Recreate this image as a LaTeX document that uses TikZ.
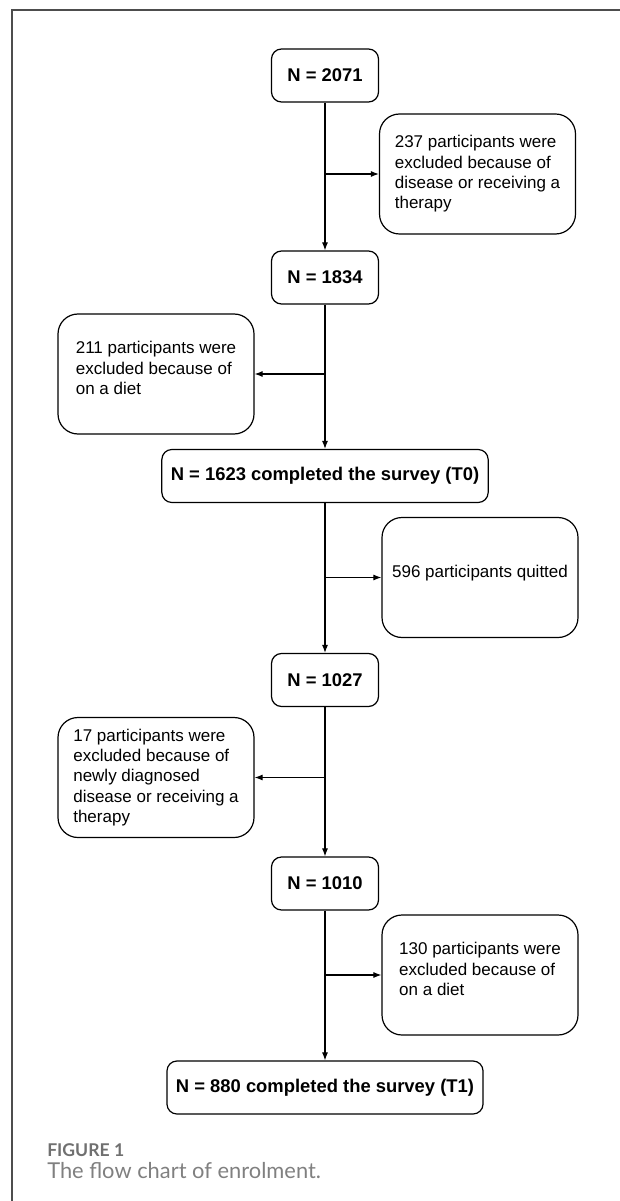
\documentclass[tikz,border=0pt]{standalone}
\usepackage{fontspec}
\setmainfont{Liberation Sans}
\newfontfamily\figfont{Lato}
\usetikzlibrary{arrows.meta}
\definecolor{framegrey}{HTML}{4D4D4D}
\definecolor{figgrey}{HTML}{707070}
\definecolor{capgrey}{HTML}{808080}
\newcommand{\padbelow}{\rule[-9pt]{0pt}{0pt}}

\begin{document}
\begin{tikzpicture}[x=0.75pt, y=-0.75pt]

      \tikzset{mainbox/.style={draw, rounded corners=7.5pt, line width=0.9pt, minimum width=80.25pt, minimum height=39.75pt, inner xsep=6.75pt, font=\fontsize{13.8pt}{16pt}\selectfont\bfseries},
               sidebox/.style={draw, rounded corners=15pt, line width=0.9pt, minimum width=147pt, minimum height=90pt, align=left, font=\fontsize{12.75pt}{15.3pt}\selectfont}}
      \useasboundingbox (0,0) rectangle (620,1201);
%% Frame
      \draw[framegrey, line width=0.8pt] (12,1201) -- (12,10) -- (620,10);
%% Counts
      \node[mainbox] (n2071) at (325,75.5) {N = 2071};
      \node[mainbox] (n1834) at (325,277.5) {N = 1834};
      \node[mainbox] (n1623) at (325,476) {N = 1623 completed the survey (T0)};
      \node[mainbox] (n1027) at (325,680) {N = 1027};
      \node[mainbox] (n1010) at (325,883.5) {N = 1010};
      \node[mainbox] (n880) at (325,1087.5) {N = 880 completed the survey (T1)};
%% Exclusions
      \node[sidebox] (s237) at (477.5,174) {237 participants were\\excluded because of\\disease or receiving a\\therapy};
      \node[sidebox] (s211) at (156,374) {211 participants were\\excluded because of\\on a diet\padbelow};
      \node[sidebox] (s596) at (480,577.5) {596 participants quitted\padbelow};
      \node[sidebox] (s17) at (156,777.5) {17 participants were\\excluded because of\\newly diagnosed\\disease or receiving a\\therapy};
      \node[sidebox] (s130) at (480,975) {130 participants were\\excluded because of\\on a diet\padbelow};
%Arrows
      \path [->, > = {Latex[length=6pt, width=4.5pt]}, thick] (n2071) edge (n1834);
      \path [->, > = {Latex[length=6pt, width=4.5pt]}, thick] (n1834) edge (n1623);
      \path [->, > = {Latex[length=6pt, width=4.5pt]}, thick] (n1623) edge (n1027);
      \path [->, > = {Latex[length=6pt, width=4.5pt]}, thick] (n1027) edge (n1010);
      \path [->, > = {Latex[length=6pt, width=4.5pt]}, thick] (n1010) edge (n880);
      \path [->, > = {Latex[length=6pt, width=4.5pt]}, thick] (n2071.south |- s237.west) edge (s237.west);
      \path [->, > = {Latex[length=6pt, width=4.5pt]}, thick] (n1834.south |- s211.east) edge (s211.east);
      \path [->, > = {Latex[length=6pt, width=4.5pt]}, thick] (n1623.south |- s596.west) edge (s596.west);
      \path [->, > = {Latex[length=6pt, width=4.5pt]}, thick] (n1027.south |- s17.east) edge (s17.east);
      \path [->, > = {Latex[length=6pt, width=4.5pt]}, thick] (n1010.south |- s130.west) edge (s130.west);
%% Caption
      \node[anchor=base west, inner sep=0pt, text=figgrey, font=\figfont\bfseries\fontsize{13.2pt}{15pt}\selectfont] (figlabel) at (47,1156) {FIGURE 1};
      \node[anchor=base west, inner sep=0pt, text=capgrey, font=\figfont\fontsize{16.4pt}{19pt}\selectfont] (figcaption) at (47,1178) {The flow chart of enrolment.};

\end{tikzpicture}
\end{document}
